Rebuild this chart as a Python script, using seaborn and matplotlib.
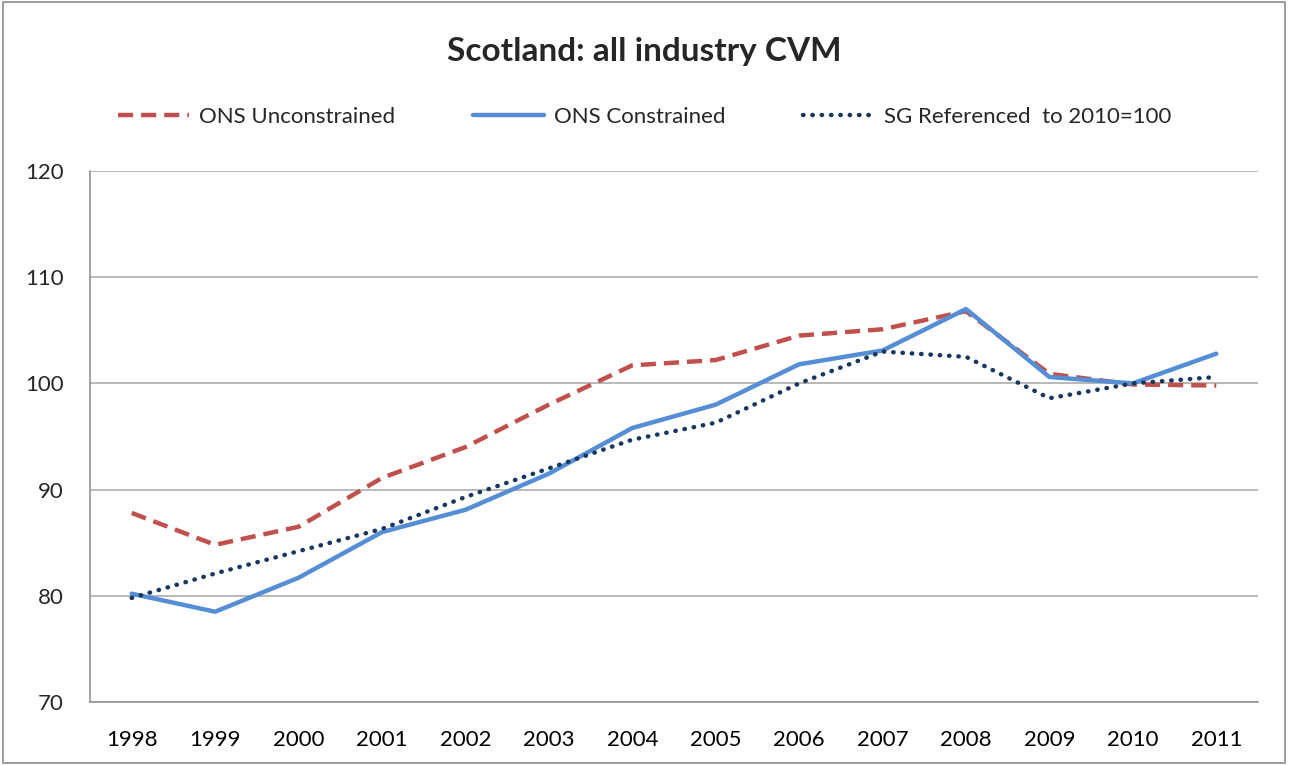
import pandas as pd
import matplotlib.pyplot as plt
import seaborn as sns
from matplotlib.patches import Rectangle

years = [str(y) for y in range(1998, 2012)]
ons_unconstrained = [87.8, 84.8, 86.5, 91.1, 94.0, 98.0, 101.7, 102.2, 104.5, 105.1, 106.8, 100.9, 99.9, 99.8]
ons_constrained = [80.2, 78.5, 81.7, 86.0, 88.1, 91.5, 95.8, 98.0, 101.8, 103.1, 107.0, 100.6, 100.0, 102.8]
sg_referenced = [79.8, 82.1, 84.2, 86.3, 89.3, 92.0, 94.7, 96.3, 100.0, 103.0, 102.5, 98.6, 100.0, 100.6]

series_names = ["ONS Unconstrained", "ONS Constrained", "SG Referenced  to 2010=100"]

sns.set_style("white")
plt.rcParams["font.family"] = ["Lato", "DejaVu Sans"]

df = pd.DataFrame({"year": years,
                   "pos": range(len(years)),
                   series_names[0]: ons_unconstrained,
                   series_names[1]: ons_constrained,
                   series_names[2]: sg_referenced})

fig = plt.figure(figsize=(12.89, 7.65), dpi=100)
ax = fig.add_axes([90 / 1289, 63 / 765, 1168 / 1289, 531 / 765])

# outer chart border
fig.patches.append(Rectangle((0.002, 0.003), 0.995, 0.994, transform=fig.transFigure,
                             fill=False, edgecolor="#8c8c8c", linewidth=1.2))

styles = [
    (series_names[0], "#C0504D", (0, (3.4, 1.8)), "butt"),
    (series_names[1], "#558ED5", "-", "round"),
    (series_names[2], "#17375E", (0, (0.1, 2.0)), "round"),
]
for name, color, ls, cap in styles:
    sns.lineplot(data=df, x="pos", y=name, ax=ax, color=color, linewidth=3.2,
                 linestyle=ls, label=name, dash_capstyle=cap, solid_capstyle="round")

ax.set_xlim(-0.5, len(years) - 0.5)
ax.set_ylim(70, 120)
ax.set_yticks(range(70, 121, 10))
ax.set_xticks(range(len(years)))
ax.set_xticklabels(years)
ax.set_xticks([i - 0.5 for i in range(len(years) + 1)], minor=True)
ax.tick_params(axis="x", which="major", length=0, pad=20, labelsize=16, colors="#000000")
ax.tick_params(axis="x", which="minor", length=7, color="#8c8c8c", direction="out")
ax.tick_params(axis="y", length=0, pad=19, labelsize=16)
ax.set_xlabel("")
ax.set_ylabel("")
ax.grid(axis="y", color="#a6a6a6", linewidth=1.1)
ax.set_axisbelow(True)
for side in ["top", "right"]:
    ax.spines[side].set_visible(False)
for side in ["left", "bottom"]:
    ax.spines[side].set_color("#8c8c8c")
    ax.spines[side].set_linewidth(1.1)

handles, labels = ax.get_legend_handles_labels()
ax.get_legend().remove()
fig.legend(handles, labels, loc="center", bbox_to_anchor=(0.5, 1 - 117 / 765), ncol=3,
           frameon=False, fontsize=16, handlelength=3.2, columnspacing=3.5, handletextpad=0.45)

fig.text(0.5, 1 - 52 / 765, "Scotland: all industry CVM", ha="center", va="center",
         fontsize=24, fontweight="bold")

fig.savefig("out.png", dpi=100)
